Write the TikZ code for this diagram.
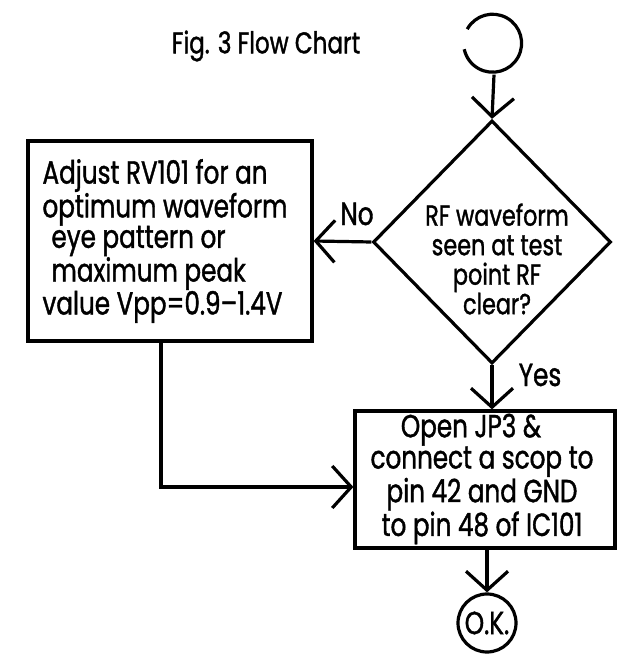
\documentclass[tikz,border=0pt]{standalone}
\usepackage{fontspec}
\setmainfont[FakeStretch=0.77,FakeBold=1.2]{Poppins}
\usetikzlibrary{arrows.meta,shapes.geometric}
\begin{document}
\begin{tikzpicture}[x=1pt,y=1pt,
  line width=3.2pt, line join=miter,
  txt/.style={font=\fontsize{32}{30}\selectfont, inner sep=0pt},
  arr/.style={-{Straight Barb[length=19pt,width=42pt]}},
  boxst/.style={draw, rectangle, inner sep=0pt},
  ring/.style={circle, inner sep=0pt, minimum size=58pt}]
\useasboundingbox (0,0) rectangle (623,660);
\fill[white] (0,0) rectangle (623,660);

\node[txt, font=\fontsize{30}{30}\selectfont] (title) at (266,614) {Fig. 3 Flow Chart};

\node[ring] (start) at (494,616) {};
\draw (start.151) arc[start angle=151, end angle=-168, radius=29pt];

\node[draw, diamond, inner sep=0pt, minimum width=238pt, minimum height=243pt] (dec) at (492,418) {};
\node[txt, align=center, font=\fontsize{29}{29.5}\selectfont] (dtext) at (497,401)
  {RF waveform\\seen at test\\point RF\\clear?};

\node[boxst, minimum width=284pt, minimum height=200pt] (adj) at (170,419) {};
\node[txt, align=left, font=\fontsize{32}{30.5}\selectfont] (adjtext) at (165,419)
  {Adjust RV101 for an\\optimum waveform\\\hspace*{9pt}eye pattern or\\\hspace*{9pt}maximum peak\\value Vpp=0.9--1.4V};

\node[boxst, minimum width=260pt, minimum height=137pt] (open) at (485,180.5) {};
\node[txt, align=center, font=\fontsize{32}{29.5}\selectfont] (opentext) at (482,181)
  {Open JP3 \&\hspace*{22pt}\\connect a scop to\\pin 42 and GND\\to pin 48 of IC101};

\node[ring] (ok) at (487,37) {};
\draw (ok) circle[radius=29pt];
\node[txt] (oktext) at (487,37) {O.K.};

\draw[arr] (start.south) -- (dec.north);
\draw[arr] (dec.west) -- (adj.east);
\node[txt] (no) at (357,446) {No};
\draw[arr] (dec.south) -- (dec.south |- open.north);
\node[txt] (yes) at (540,285) {Yes};
\coordinate (bend) at (161,173);
\draw[arr] (adj.south -| bend) -- (bend) -- (bend -| open.west);
\draw[arr] (open.south -| ok) -- (ok.north);
\end{tikzpicture}
\end{document}
